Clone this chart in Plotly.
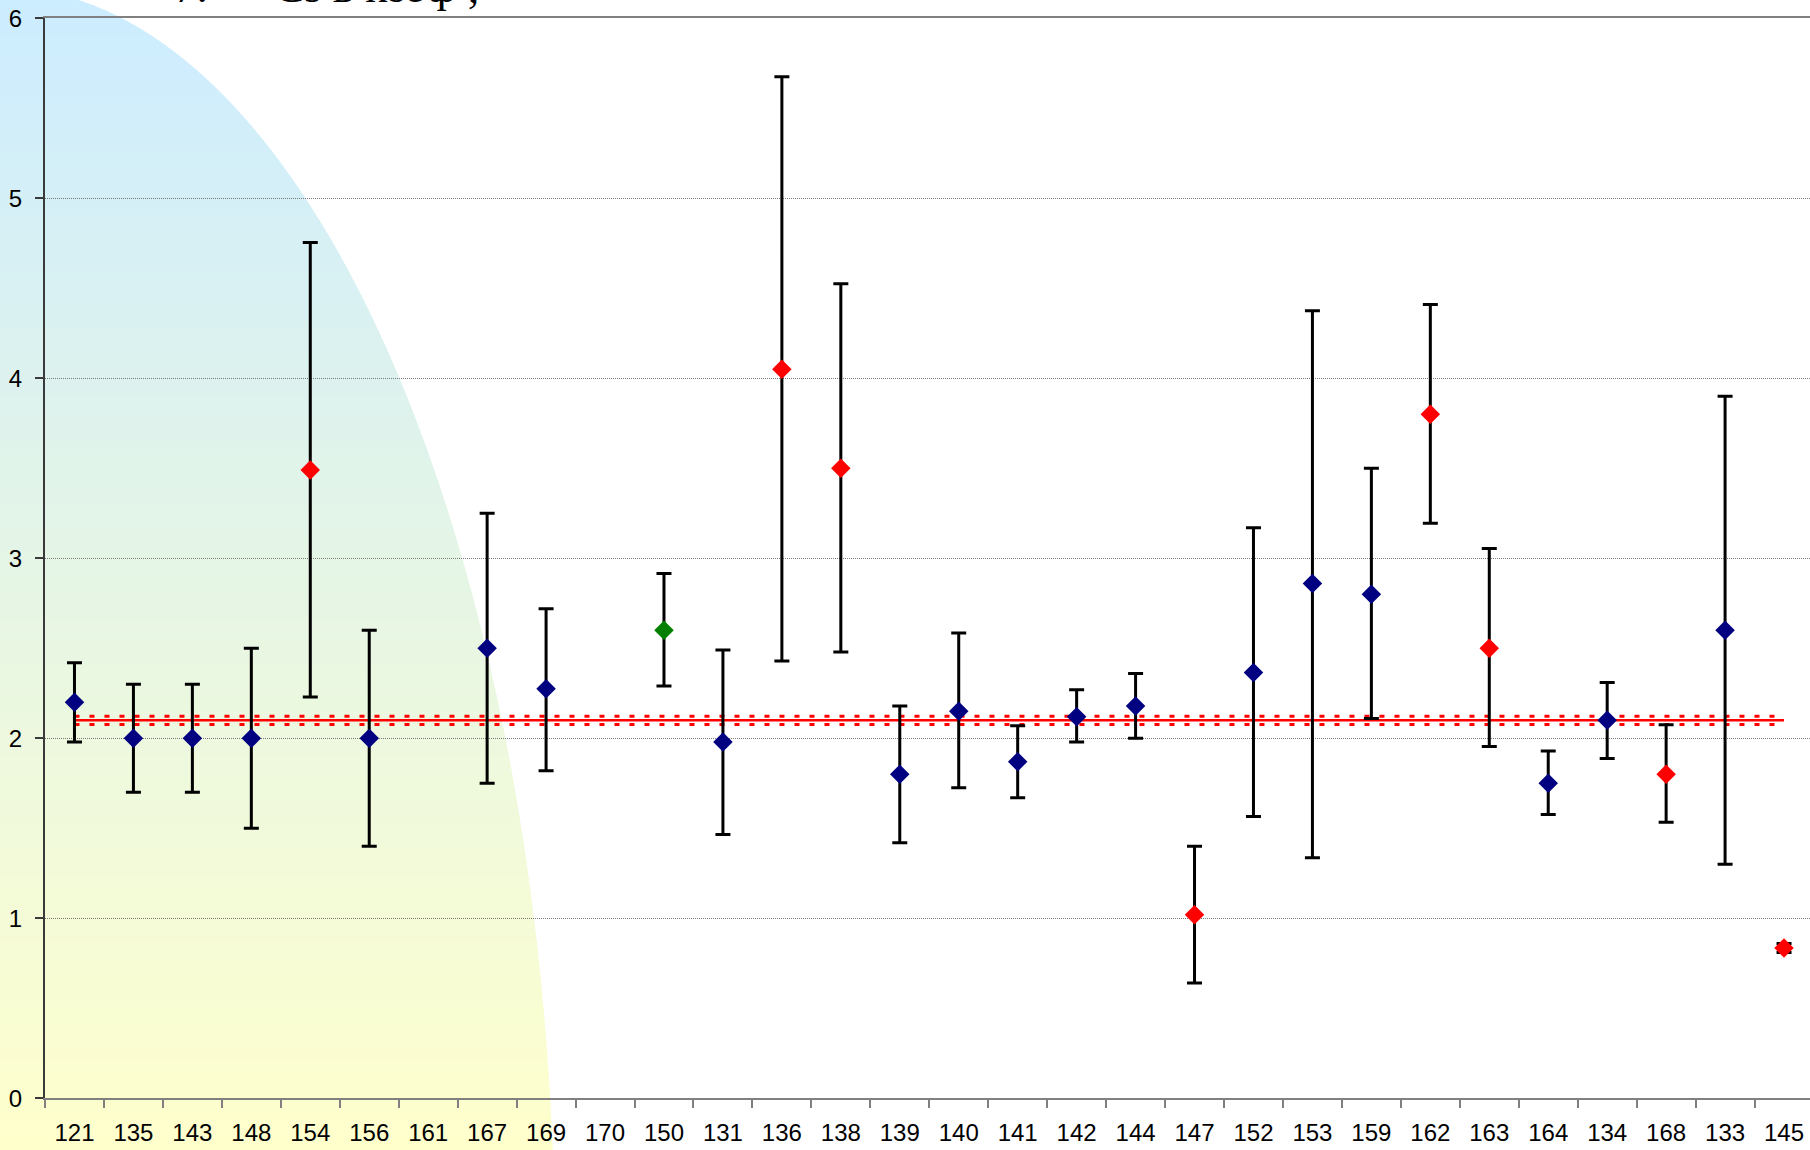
import plotly.graph_objects as go

# ---------------- data ----------------
categories = ["121", "135", "143", "148", "154", "156", "161", "167", "169", "170",
              "150", "131", "136", "138", "139", "140", "141", "142", "144", "147",
              "152", "153", "159", "162", "163", "164", "134", "168", "133", "145"]
values = [2.20, 2.00, 2.00, 2.00, 3.49, 2.00, None, 2.50, 2.275, None,
          2.60, 1.98, 4.05, 3.50, 1.80, 2.15, 1.87, 2.12, 2.18, 1.02,
          2.365, 2.86, 2.80, 3.80, 2.50, 1.75, 2.10, 1.80, 2.60, 0.835]
upper = [2.42, 2.30, 2.30, 2.50, 4.755, 2.60, None, 3.25, 2.72, None,
         2.915, 2.49, 5.675, 4.525, 2.18, 2.585, 2.07, 2.27, 2.36, 1.40,
         3.17, 4.375, 3.50, 4.41, 3.055, 1.93, 2.31, 2.075, 3.90, 0.86]
lower = [1.98, 1.70, 1.70, 1.50, 2.23, 1.40, None, 1.75, 1.82, None,
         2.29, 1.465, 2.43, 2.48, 1.42, 1.725, 1.67, 1.98, 2.00, 0.64,
         1.565, 1.337, 2.11, 3.195, 1.955, 1.577, 1.888, 1.533, 1.30, 0.81]
groups = ["b", "b", "b", "b", "r", "b", "b", "b", "b", "b",
          "g", "b", "r", "r", "b", "b", "b", "b", "b", "r",
          "b", "b", "b", "r", "r", "b", "b", "r", "b", "r"]
mean_level = 2.10
mean_upper = 2.123
mean_lower = 2.077
y_ticks = [0, 1, 2, 3, 4, 5, 6]

group_colors = {"b": "#000080", "r": "#FF0000", "g": "#008000"}

# ---------------- layout geometry (pixels) ----------------
W, H = 1810, 1150
PLOT_LEFT = 45
PLOT_TOP = 18.3
PLOT_BOTTOM = 1098.3
CAT_W = 58.95

fig = go.Figure()

# mean line and its confidence band (dotted)
for lvl, dash, lw in [(mean_upper, "5px,10px", 3), (mean_lower, "5px,10px", 3), (mean_level, "solid", 2.4)]:
    fig.add_trace(go.Scatter(
        x=categories, y=[lvl] * len(categories), mode="lines",
        line=dict(color="#FF0000", width=lw, dash=dash),
        hoverinfo="skip", showlegend=False))

# points with error bars
err_plus = [None if v is None else u - v for v, u in zip(values, upper)]
err_minus = [None if v is None else v - l for v, l in zip(values, lower)]
fig.add_trace(go.Scatter(
    x=categories, y=values, mode="markers",
    marker=dict(symbol="diamond", size=15,
                color=[group_colors[g] for g in groups], line=dict(width=0)),
    error_y=dict(type="data", symmetric=False, array=err_plus, arrayminus=err_minus,
                 color="#000000", thickness=3, width=7.5),
    showlegend=False))

# ---------------- background gradient quarter-ellipse ----------------
cx, cy, rx, ry = 0.0, 1267.0, 555.0, 1280.0
c_top = (204, 236, 255)
c_bot = (255, 255, 204)


def ex(py):
    t = (cy - py) / ry
    t = max(-1.0, min(1.0, t))
    return cx + rx * (1 - t * t) ** 0.5


shapes = []
step = 5
py = 0
while py < H:
    y0, y1 = py, min(H, py + step + 1)
    f = ((y0 + y1) / 2) / H
    col = tuple(round(a + (b - a) * f) for a, b in zip(c_top, c_bot))
    pts = [(0, y0), (ex(y0), y0), (ex(y1), y1), (0, y1)]
    path = "M " + " L ".join(f"{x / W:.5f},{1 - y / H:.5f}" for x, y in pts) + " Z"
    shapes.append(dict(type="path", xref="paper", yref="paper", path=path,
                       fillcolor=f"rgb{col}", line=dict(width=0), layer="below"))
    py += step

# partially visible caption at the very top (cut by the page edge, as in the original)
cap_font = dict(family="Liberation Serif", size=45, color="#000000")
annotations = [
    dict(text="7.", x=172 / W, y=1 - 14 / H, xref="paper", yref="paper",
         xanchor="left", yanchor="bottom", showarrow=False, font=cap_font),
    dict(text="Cs в коэф ;", x=272 / W, y=1 - 14 / H, xref="paper", yref="paper",
         xanchor="left", yanchor="bottom", showarrow=False, font=cap_font),
]

x_right = (W - (PLOT_LEFT + CAT_W / 2)) / CAT_W

fig.update_layout(
    width=W, height=H,
    margin=dict(l=0, r=0, t=0, b=0, pad=0),
    paper_bgcolor="#FFFFFF",
    plot_bgcolor="rgba(0,0,0,0)",
    shapes=shapes,
    annotations=annotations,
    showlegend=False,
    font=dict(family="Liberation Sans, Arial", size=24, color="#000000"),
    xaxis=dict(
        type="category", categoryorder="array", categoryarray=categories,
        domain=[PLOT_LEFT / W, 1], range=[-0.5, x_right],
        showgrid=False, zeroline=False,
        showline=True, linecolor="#808080", linewidth=2, mirror=True,
        ticks="outside", ticklen=8, tickcolor="#808080", tickwidth=1.5,
        tickson="boundaries", ticklabelstandoff=12,
        tickfont=dict(family="Liberation Sans, Arial", size=24, color="#000000"),
        automargin=False,
    ),
    yaxis=dict(
        domain=[(H - PLOT_BOTTOM) / H, (H - PLOT_TOP) / H], range=[0, 6],
        tickmode="array", tickvals=y_ticks, ticktext=[str(t) for t in y_ticks],
        showgrid=True, gridcolor="#7a7a7a", gridwidth=1, griddash="1px,1px",
        zeroline=False,
        showline=True, linecolor="#3a3a3a", linewidth=2,
        ticks="outside", ticklen=8, tickcolor="#3a3a3a", tickwidth=1.5,
        ticklabelstandoff=8,
        tickfont=dict(family="Liberation Sans, Arial", size=24, color="#000000"),
        automargin=False,
    ),
)

fig.write_html("out.html")
